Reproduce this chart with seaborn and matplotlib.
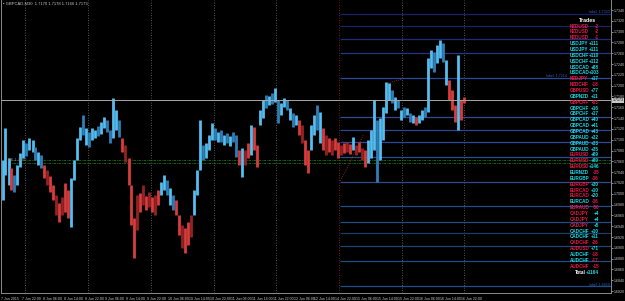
import numpy as np
import pandas as pd
import matplotlib
matplotlib.use("Agg")
import matplotlib.pyplot as plt
import matplotlib.transforms as mtransforms
import seaborn as sns

# ---------------- data ----------------
chart_title = "GBPCAD,M30  1.7170 1.7178 1.7166 1.7173"

bar_highs = [
    1.7062, 1.7122, 1.7066, 1.7048, 1.7035, 1.7053, 1.7075, 1.7100, 1.7094, 1.7103,
    1.7100, 1.7087, 1.7077, 1.7072, 1.7053, 1.7044, 1.7033, 1.7016, 1.6998, 1.6983,
    1.6994, 1.7020, 1.7007, 1.7029, 1.7062, 1.7103, 1.7124, 1.7146, 1.7122, 1.7114,
    1.7122, 1.7118, 1.7125, 1.7133, 1.7142, 1.7136, 1.7118, 1.7177, 1.7155, 1.7136,
    1.7103, 1.7090, 1.7066, 1.7016, 1.6955, 1.6998, 1.7001, 1.7016, 1.6996, 1.7003,
    1.6994, 1.6998, 1.7007, 1.7022, 1.7035, 1.7025, 1.7011, 1.6998, 1.6988, 1.6961,
    1.6942, 1.6937, 1.6948, 1.6961, 1.7007, 1.7044, 1.7136, 1.7090, 1.7094, 1.7109,
    1.7131, 1.7122, 1.7114, 1.7118, 1.7109, 1.7112, 1.7107, 1.7114, 1.7109, 1.7081,
    1.7085, 1.7081, 1.7094, 1.7127, 1.7124, 1.7090, 1.7155, 1.7173, 1.7183, 1.7181,
    1.7186, 1.7196, 1.7173, 1.7168, 1.7177, 1.7173, 1.7159, 1.7149, 1.7146, 1.7136,
    1.7127, 1.7100, 1.7081, 1.7127, 1.7146, 1.7164, 1.7151, 1.7122, 1.7109, 1.7103,
    1.7100, 1.7103, 1.7096, 1.7090, 1.7094, 1.7096, 1.7092, 1.7105, 1.7090, 1.7096,
    1.7085, 1.7081, 1.7100, 1.7118, 1.7173, 1.7136, 1.7140, 1.7161, 1.7207, 1.7205,
    1.7192, 1.7179, 1.7173, 1.7155, 1.7161, 1.7159, 1.7149, 1.7146, 1.7142, 1.7146,
    1.7155, 1.7161, 1.7251, 1.7266, 1.7262, 1.7275, 1.7284, 1.7279, 1.7247, 1.7210,
    1.7192, 1.7164, 1.7257, 1.7173, 1.7179,
]
bar_lows = [
    1.6988, 1.7035, 1.7016, 1.7007, 1.7003, 1.7016, 1.7050, 1.7066, 1.7070, 1.7081,
    1.7077, 1.7062, 1.7053, 1.7048, 1.7029, 1.7016, 1.7003, 1.6988, 1.6961, 1.6948,
    1.6961, 1.6966, 1.6955, 1.6939, 1.7025, 1.7062, 1.7100, 1.7109, 1.7090, 1.7087,
    1.7100, 1.7103, 1.7107, 1.7111, 1.7122, 1.7114, 1.7094, 1.7103, 1.7118, 1.7105,
    1.7077, 1.7059, 1.7016, 1.6942, 1.6881, 1.6933, 1.6966, 1.6979, 1.6970, 1.6976,
    1.6966, 1.6961, 1.6979, 1.6998, 1.7007, 1.6998, 1.6979, 1.6970, 1.6961, 1.6924,
    1.6900, 1.6890, 1.6905, 1.6920, 1.6961, 1.6998, 1.7044, 1.7062, 1.7066, 1.7081,
    1.7100, 1.7100, 1.7096, 1.7096, 1.7090, 1.7094, 1.7088, 1.7096, 1.7068, 1.7053,
    1.7031, 1.7053, 1.7066, 1.7072, 1.7081, 1.7050, 1.7127, 1.7140, 1.7159, 1.7164,
    1.7166, 1.7170, 1.7131, 1.7146, 1.7161, 1.7155, 1.7136, 1.7124, 1.7127, 1.7109,
    1.7094, 1.7053, 1.7038, 1.7081, 1.7109, 1.7118, 1.7094, 1.7081, 1.7072, 1.7077,
    1.7072, 1.7081, 1.7066, 1.7072, 1.7075, 1.7077, 1.7074, 1.7081, 1.7072, 1.7077,
    1.7062, 1.7050, 1.7057, 1.7066, 1.7081, 1.7022, 1.7062, 1.7100, 1.7149, 1.7173,
    1.7168, 1.7155, 1.7159, 1.7136, 1.7142, 1.7146, 1.7133, 1.7131, 1.7127, 1.7131,
    1.7136, 1.7142, 1.7151, 1.7233, 1.7225, 1.7242, 1.7251, 1.7244, 1.7201, 1.7173,
    1.7155, 1.7133, 1.7118, 1.7136, 1.7168,
]
# B bull / b bear inside up-trend, R bull / r bear inside down-trend
bar_codes = ("BBBRbBBBbB" "BbBbRrRRrR" "rRRBBBBbBb" "BBbBBbbBBb" "RrRRRrRrRr"
             "RrRBBbBbRR" "rRRrBBBbBB" "BbBbBbBbbR" "BrRBRRBBbB" "bBbBBbBbBR"
             "rRRBBbBRrR" "rRRrRrRBrR" "rRBBBbBBBB" "bBbBbBbBRB" "BbBBbBBbBR"
             "RRBRR")

time_labels = ["7 Jun 2015", "7 Jun 22:00", "8 Jun 06:00", "8 Jun 14:00", "8 Jun 22:00",
               "9 Jun 06:00", "9 Jun 14:00", "9 Jun 22:00", "10 Jun 06:00", "10 Jun 14:00",
               "10 Jun 22:00", "11 Jun 06:00", "11 Jun 14:00", "11 Jun 22:00", "12 Jun 06:00",
               "12 Jun 14:00", "14 Jun 22:00", "15 Jun 06:00", "15 Jun 14:00", "15 Jun 22:00",
               "16 Jun 06:00", "16 Jun 14:00", "16 Jun 22:00"]

price_ticks = [1.6820, 1.6840, 1.6860, 1.6880, 1.6900, 1.6920, 1.6940, 1.6960, 1.6980,
               1.7000, 1.7020, 1.7040, 1.7060, 1.7080, 1.7100, 1.7120, 1.7140, 1.7160,
               1.7180, 1.7200, 1.7220, 1.7240, 1.7260, 1.7280, 1.7300, 1.7320, 1.7340]

current_price = 1.7173
pivot_prices = [1.7062, 1.7057]
level_prices = [1.7333, 1.7310, 1.7286, 1.7260, 1.7214, 1.7142, 1.7118, 1.7096,
                1.7068, 1.7022, 1.6977, 1.6948, 1.6927, 1.6903, 1.6876, 1.6829]
level_colors = ["#18226a", "#18226a", "#1c2c7a", "#22358a", "#2c4a9c", "#344a94",
                "#2c4696", "#2c4a9c", "#24508c", "#34488e", "#1e4e88", "#1e4e88",
                "#163e66", "#1a4670", "#1e4e88", "#204e8a"]
trade_arrows = [((113.2, 1.7024), (120.8, 1.7109)), ((129.0, 1.7205), (133.6, 1.7212))]

trade_symbols = ["NZDUSD", "NZDUSD", "NZDUSD", "USDJPY", "USDJPY", "USDCHF", "USDCHF",
                 "USDCAD", "USDCAD", "NZDJPY", "NZDCHF", "GBPUSD", "GBPNZD", "GBPCHF",
                 "GBPCHF", "GBPCHF", "GBPCAD", "GBPCAD", "GBPCAD", "GBPAUD", "GBPAUD",
                 "GBPAUD", "EURUSD", "EURUSD", "EURUSD", "EURNZD", "EURGBP", "EURGBP",
                 "EURCAD", "EURCAD", "EURCAD", "EURAUD", "CADJPY", "CADJPY", "CADJPY",
                 "CADCHF", "CADCHF", "CADCHF", "AUDUSD", "AUDCHF", "AUDCHF", "AUDCHF"]
trade_pips = [-2, -2, -1, 111, 111, 110, 112, 88, 103, 17, -18, 77, 11, -63, 16, 17,
              40, 41, 43, 32, 33, 35, 89, 89, 146, -35, -36, 30, 10, 20, -36, -50,
              4, 4, 5, 10, 11, -26, 71, -18, -17, -15]
trade_sides = "rrrccccccrrrcrccccccccrrrccrrrcrrrrccrrccr"
total_pips = 1164

# ---------------- style ----------------
sns.set_style("dark")
plt.rcParams.update({
    "figure.facecolor": "black",
    "axes.facecolor": "black",
    "savefig.facecolor": "black",
})
plt.rcParams["font.family"] = ["Liberation Sans", "DejaVu Sans"]

W, H = 625, 301
fig = plt.figure(figsize=(W / 100, H / 100), dpi=100)
ax = fig.add_axes([1 / W, 8 / H, 610 / W, 293 / H])
ax.set_facecolor("black")

# ---------------- candles (high-low bars) ----------------
n = len(bar_highs)
idx = np.arange(n)
df = pd.DataFrame({
    "bar": np.repeat(idx, 2),
    "x": np.repeat(idx + 0.5, 2),
    "price": np.ravel(np.column_stack([bar_lows, bar_highs])),
    "code": np.repeat(list(bar_codes), 2),
})
palette = {"B": "#55bdf0", "b": "#2f7fb6", "R": "#d83c3c", "r": "#962222"}
sns.lineplot(data=df, x="x", y="price", units="bar", hue="code", palette=palette,
             estimator=None, sort=False, legend=False, lw=2.0, ax=ax,
             solid_capstyle="butt", zorder=3)

x_max = 610 / 3
top_p = 1.73585
bot_p = top_p - 0.000185 * 293
ax.set_xlim(0, x_max)
ax.set_ylim(bot_p, top_p)

# grid (period separators every 3rd label)
label_step = 20.9 / 3
label_pos = [0.0 + k * label_step for k in range(len(time_labels))]
for k in range(1, len(time_labels), 3):
    gx = label_pos[k] + 1.2
    col = "#a02828" if time_labels[k].startswith("14 Jun") else "#707070"
    ax.axvline(gx, color=col, lw=0.6, ls=(0, (1, 2)), zorder=1)

# trade level lines
trade_start = 113.0
ax.hlines(level_prices, trade_start, x_max, colors=level_colors, lw=0.9, zorder=2)
for (x0, y0), (x1, y1) in trade_arrows:
    ax.plot([x0, x1], [y0, y1], color="#c02020", lw=0.6, ls=(0, (1, 1.5)), zorder=4)

# pivot lines (green dash-dot)
for p in pivot_prices:
    ax.hlines(p, 2.3, x_max, colors="#1f6b1f", lw=0.6, linestyles=(0, (3, 1, 1, 1)), zorder=2)
ax.text(2.5, pivot_prices[0] + 0.00005, "BE 1.7060", color="#8a8a8a", fontsize=2.8,
        va="center", ha="left", zorder=5)

# current price line
ax.axhline(current_price, color="#a8a8a8", lw=0.7, zorder=4)

# small labels on some levels
for p, xr in ((level_prices[0], x_max - 0.5), (level_prices[4], 566 / 3),
              (level_prices[-1], x_max - 0.5)):
    ax.text(xr, p + 0.0003, f"label  {p:.4f}", color="#2c5cb8", fontsize=2.6,
            ha="right", va="center", zorder=5)

# ---------------- axes ----------------
ax.spines["top"].set_visible(False)
for s in ("left", "bottom", "right"):
    ax.spines[s].set_color("#8a8a8a")
    ax.spines[s].set_linewidth(0.7)
ax.yaxis.tick_right()
ax.set_yticks(price_ticks)
ax.set_yticklabels([f"{p:.4f}" for p in price_ticks])
ax.set_xticks(label_pos)
ax.set_xticklabels(time_labels, ha="left")
ax.tick_params(axis="y", labelsize=2.6, colors="#c8c8c8", length=1.5, width=0.5, pad=0.6)
ax.tick_params(axis="x", labelsize=2.6, colors="#c8c8c8", length=2, width=0.5, pad=0.8)
ax.set_xlabel("")
ax.set_ylabel("")
ax.grid(False)

# current price box on axis
trans = mtransforms.blended_transform_factory(ax.transAxes, ax.transData)
ax.text(1.003, current_price, f"{current_price:.4f}", transform=trans, fontsize=2.6,
        color="black", va="center", ha="left", clip_on=False, zorder=6,
        bbox=dict(boxstyle="square,pad=0.15", fc="#c8c8c8", ec="none"))

# title
fig.text(3 / W, 1 - 3.5 / H, "\u25aa " + chart_title, color="#c8c8c8", fontsize=3.0,
         ha="left", va="center")

# ---------------- trades table ----------------
RED, CYAN = "#e8174a", "#19d9e6"
name_x, val_x = 570 / W, 599 / W
row0, row_h = 26.0, 5.86
fs = 3.35
fig.text(587 / W, 1 - 20.5 / H, "Trades", color="white", fontsize=3.8, weight="bold",
         ha="center", va="center")
for i, (sym, pips, side) in enumerate(zip(trade_symbols, trade_pips, trade_sides)):
    yy = 1 - (row0 + i * row_h) / H
    fig.text(name_x, yy, sym, color=RED if side == "r" else CYAN, fontsize=fs,
             weight="bold", ha="left", va="center")
    fig.text(val_x, yy, f"{pips:+d}", color=CYAN if pips > 0 else RED, fontsize=fs,
             weight="bold", ha="right", va="center")
yy = 1 - (row0 + len(trade_symbols) * row_h) / H
fig.text(575 / W, yy, "Total", color="white", fontsize=fs, weight="bold",
         ha="left", va="center")
fig.text(val_x, yy, f"+{total_pips}", color=CYAN, fontsize=fs, weight="bold",
         ha="right", va="center")

fig.savefig("out.png", dpi=100, facecolor="black")
